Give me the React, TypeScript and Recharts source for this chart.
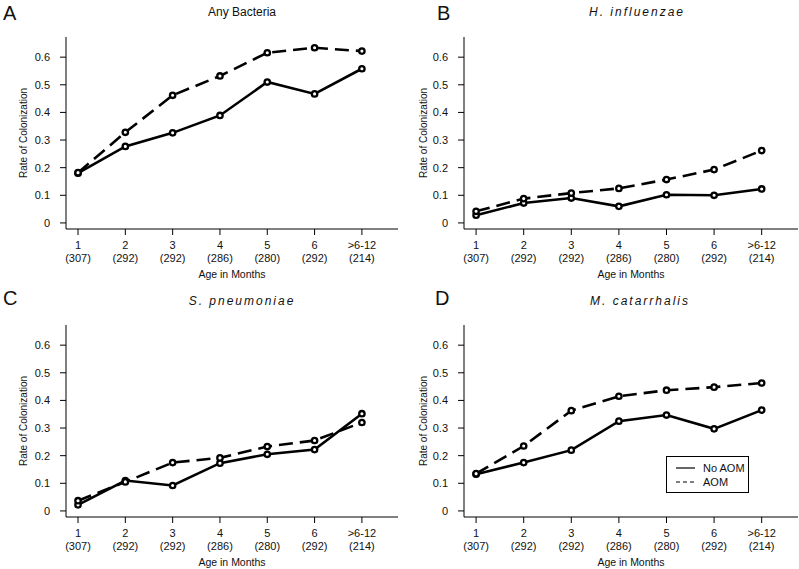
import React from "react";
import { LineChart, Line, XAxis, YAxis, Legend } from "recharts";

const FONT = '"Liberation Sans", Arial, Helvetica, sans-serif';

// x positions (age groups) and their tick labels
const ageIndex = [1, 2, 3, 4, 5, 6, 7];
const months = ["1", "2", "3", "4", "5", "6", ">6-12"];
const counts = ["(307)", "(292)", "(292)", "(286)", "(280)", "(292)", "(214)"];
const yTicks = [0, 0.1, 0.2, 0.3, 0.4, 0.5, 0.6];

// A - Any Bacteria
const anyNoAom = [0.18, 0.277, 0.326, 0.389, 0.51, 0.467, 0.558];
const anyAom = [0.182, 0.328, 0.462, 0.532, 0.616, 0.634, 0.622];

// B - H. influenzae
const hiNoAom = [0.028, 0.072, 0.09, 0.06, 0.102, 0.1, 0.123];
const hiAom = [0.042, 0.088, 0.108, 0.125, 0.157, 0.193, 0.262];

// C - S. pneumoniae
const spNoAom = [0.022, 0.11, 0.092, 0.173, 0.205, 0.222, 0.352];
const spAom = [0.037, 0.105, 0.175, 0.192, 0.233, 0.255, 0.32];

// D - M. catarrhalis
const mcNoAom = [0.133, 0.175, 0.22, 0.325, 0.347, 0.297, 0.365];
const mcAom = [0.135, 0.235, 0.363, 0.415, 0.437, 0.448, 0.463];

const rows = (noAom: number[], aom: number[]) =>
  ageIndex.map((x, i) => ({ x, noAom: noAom[i], aom: aom[i] }));

const MonthTick = (props: any) => {
  const { x, y, payload } = props;
  const i = payload.value - 1;
  return (
    <text x={x} y={y} textAnchor="middle" fontSize={11} fontFamily={FONT} fill="#111">
      <tspan x={x} dy={14}>{months[i]}</tspan>
      <tspan x={x} dy={13}>{counts[i]}</tspan>
    </text>
  );
};

const RingDot = (props: any) => {
  const { cx, cy, index } = props;
  if (cx == null || cy == null) return null;
  return <circle key={index} cx={cx} cy={cy} r={2.7} fill="#fff" stroke="#000" strokeWidth={2.3} />;
};

const LegendBox = (props: any) => {
  // solid (No AOM) first, dashed (AOM) second
  const items = [...(props.payload || [])].sort(
    (a: any, b: any) => (a.dataKey === "aom" ? 1 : 0) - (b.dataKey === "aom" ? 1 : 0)
  );
  return (
    <svg width={83} height={37} style={{ display: "block" }}>
      <rect x={0.5} y={0.5} width={82} height={36} fill="#fff" stroke="#000" strokeWidth={1} />
      {items.map((it: any, k: number) => (
        <g key={k}>
          <line
            x1={10}
            x2={29}
            y1={12 + k * 14}
            y2={12 + k * 14}
            stroke="#000"
            strokeWidth={1.2}
            strokeDasharray={it.dataKey === "aom" ? "4 3" : undefined}
          />
          <text x={37} y={16 + k * 14} fontSize={11} fontFamily={FONT} fill="#111">
            {it.value}
          </text>
        </g>
      ))}
    </svg>
  );
};

type PanelProps = {
  data: { x: number; noAom: number; aom: number }[];
  left: number;
  top: number;
  width: number;
  height: number;
  axisWidth: number;
  right: number;
  xAxisHeight: number;
  legend?: boolean;
};

function Panel({ data, left, top, width, height, axisWidth, right, xAxisHeight, legend }: PanelProps) {
  const plotMidX = axisWidth + (width - axisWidth - right) / 2;
  return (
    <div style={{ position: "absolute", left, top }}>
      <LineChart width={width} height={height} data={data} margin={{ top: 37, right, bottom: 0, left: 0 }}>
        <XAxis
          dataKey="x"
          type="number"
          domain={[0.746, 7.763]}
          ticks={ageIndex}
          allowDataOverflow
          height={xAxisHeight}
          tickSize={6}
          tickMargin={0}
          stroke="#000"
          tickLine={{ stroke: "#000" }}
          tick={<MonthTick />}
          label={() => (
            <text x={plotMidX} y={278} textAnchor="middle" fontSize={10.5} fontFamily={FONT} fill="#111">
              Age in Months
            </text>
          )}
        />
        <YAxis
          type="number"
          domain={[-0.022, 0.673]}
          ticks={yTicks}
          allowDataOverflow
          width={axisWidth}
          tickSize={6}
          tickMargin={10}
          stroke="#000"
          tick={{ fontSize: 11, fontFamily: FONT, fill: "#111" }}
          label={() => (
            <text
              x={27}
              y={133}
              transform="rotate(-90, 27, 133)"
              textAnchor="middle"
              fontSize={10}
              fontFamily={FONT}
              fill="#111"
            >
              Rate of Colonization
            </text>
          )}
        />
        <Line
          dataKey="noAom"
          name="No AOM"
          type="linear"
          stroke="#000"
          strokeWidth={2.6}
          dot={<RingDot />}
          activeDot={false}
          isAnimationActive={false}
        />
        <Line
          dataKey="aom"
          name="AOM"
          type="linear"
          stroke="#000"
          strokeWidth={2.6}
          strokeDasharray="14 7"
          dot={<RingDot />}
          activeDot={false}
          isAnimationActive={false}
        />
        {legend && (
          <Legend
            content={<LegendBox />}
            layout="horizontal"
            verticalAlign="middle"
            align="center"
            wrapperStyle={{ left: 266, top: 168, width: 83, height: 37 }}
          />
        )}
      </LineChart>
    </div>
  );
}

const titleStyle = { fontSize: 12, fontFamily: FONT, fill: "#111" } as const;
const letterStyle = { fontSize: 20, fontFamily: FONT, fill: "#111" } as const;

export default function App() {
  return (
    <div style={{ position: "absolute", left: 0, top: 0, width: 799, height: 569, background: "#fff" }}>
      <Panel data={rows(anyNoAom, anyAom)} left={0} top={0} width={400} height={288} axisWidth={66} right={2} xAxisHeight={59} />
      <Panel data={rows(hiNoAom, hiAom)} left={400} top={0} width={399} height={288} axisWidth={64} right={1} xAxisHeight={59} />
      <Panel data={rows(spNoAom, spAom)} left={0} top={288} width={400} height={281} axisWidth={66} right={2} xAxisHeight={52} />
      <Panel data={rows(mcNoAom, mcAom)} left={400} top={288} width={399} height={281} axisWidth={64} right={1} xAxisHeight={52} legend />
      <svg width={799} height={569} style={{ position: "absolute", left: 0, top: 0, pointerEvents: "none" }}>
        <text x={3} y={20} {...letterStyle}>A</text>
        <text x={437} y={20} {...letterStyle}>B</text>
        <text x={3} y={305} {...letterStyle}>C</text>
        <text x={435} y={305} {...letterStyle}>D</text>
        <text x={242} y={16} textAnchor="middle" {...titleStyle}>Any Bacteria</text>
        <text x={637} y={16} textAnchor="middle" fontStyle="italic" letterSpacing={2} {...titleStyle}>H. influenzae</text>
        <text x={242} y={305} textAnchor="middle" fontStyle="italic" letterSpacing={2} {...titleStyle}>S. pneumoniae</text>
        <text x={640} y={305} textAnchor="middle" fontStyle="italic" letterSpacing={2} {...titleStyle}>M. catarrhalis</text>
      </svg>
    </div>
  );
}
